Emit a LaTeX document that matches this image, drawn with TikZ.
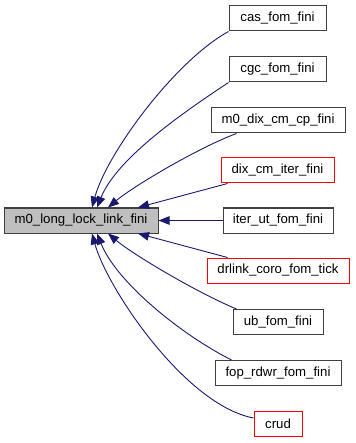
\documentclass[tikz,border=0pt]{standalone}
\usepackage{fontspec}
\setmainfont{Liberation Sans}
\usetikzlibrary{arrows.meta,calc}
\definecolor{edgeblue}{HTML}{191970}
\definecolor{boxgrey}{HTML}{404040}
\definecolor{fillgrey}{HTML}{BFBFBF}
\definecolor{boxred}{HTML}{FF0000}
\tikzset{
  fn/.style={draw=boxgrey, line width=1pt, fill=white, minimum height=25pt,
    inner sep=0pt, font=\fontsize{13.2}{15}\selectfont, text=black},
  fnred/.style={fn, draw=boxred},
  fnmain/.style={fn, fill=fillgrey},
  call/.style={draw=edgeblue, line width=0.9pt,
    -{Triangle[length=11pt,width=8.5pt,fill=edgeblue]}},
}
\begin{document}
\begin{tikzpicture}[x=1pt,y=-1pt]
\useasboundingbox (0,0) rectangle (355,443);

% callee
\node[fnmain, minimum width=154pt] (main) at (81,220.5) {m0\_long\_lock\_link\_fini};

% callers
\node[fn,    minimum width=97pt]  (cas)    at (277.5,18.5)  {cas\_fom\_fini};
\node[fn,    minimum width=97pt]  (cgc)    at (277.5,69.5)  {cgc\_fom\_fini};
\node[fn,    minimum width=134pt] (mdix)   at (278,120.5)   {m0\_dix\_cm\_cp\_fini};
\node[fnred, minimum width=113pt] (dixit)  at (277.5,170.5) {dix\_cm\_iter\_fini};
\node[fn,    minimum width=110pt] (iterut) at (278,220.5)   {iter\_ut\_fom\_fini};
\node[fnred, minimum width=142pt] (drlink) at (278,270.5)   {drlink\_coro\_fom\_tick};
\node[fn,    minimum width=90pt]  (ub)     at (278,322)     {ub\_fom\_fini};
\node[fn,    minimum width=126pt] (fop)    at (278,373)     {fop\_rdwr\_fom\_fini};
\node[fnred, minimum width=48pt]  (crud)   at (278,423.5)   {crud};

% call edges, each ending on the callee
\draw[call] (cas.south west) .. controls (175,61) and (107,153) .. ([xshift=11pt]main.north);
\draw[call] (cgc.south west) .. controls (184,112) and (117,158) .. ([xshift=16pt]main.north);
\draw[call] ([xshift=26pt]mdix.south west) .. controls (200,147) and (135,185) .. ([xshift=27pt]main.north);
\draw[call] ([xshift=7pt]dixit.south west) -- ([xshift=57pt]main.north);
\draw[call] (iterut.west) -- (main.east);
\draw[call] ([xshift=21pt]drlink.north west) -- ([xshift=57pt]main.south);
\draw[call] ([xshift=4pt]ub.north west) .. controls (200,294) and (135,256) .. ([xshift=27pt]main.south);
\draw[call] ([xshift=17pt]fop.north west) .. controls (182,335) and (117,283) .. ([xshift=16pt]main.south);
\draw[call] ([yshift=5.5pt]crud.west) .. controls (185,405) and (107,288) .. ([xshift=11pt]main.south);
\end{tikzpicture}
\end{document}
